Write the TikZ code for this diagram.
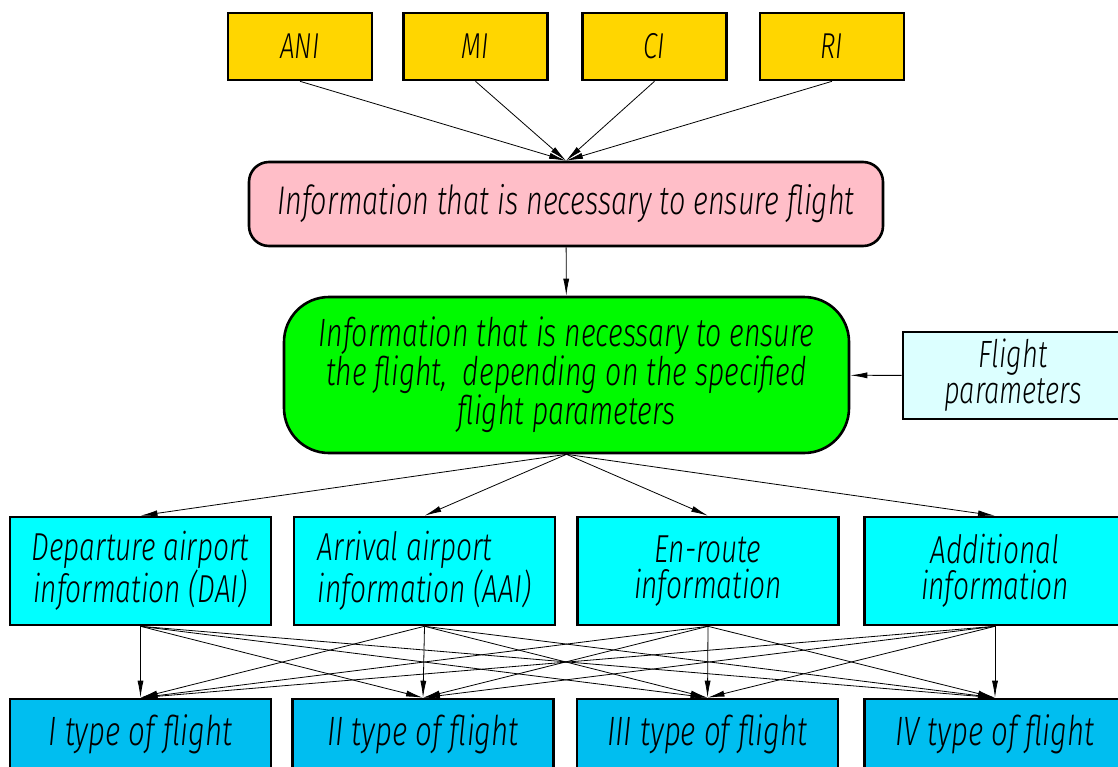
\documentclass[tikz,border=0pt]{standalone}
\usepackage{fontspec}
\newfontfamily\gost{Fira Sans Light Italic}[FakeStretch=0.72]
\usetikzlibrary{arrows.meta}
\definecolor{gold}{RGB}{255,214,0}
\definecolor{rosa}{RGB}{255,190,200}
\definecolor{lime}{RGB}{0,250,0}
\definecolor{pale}{RGB}{220,255,255}
\definecolor{aqua}{RGB}{0,255,255}
\definecolor{sky}{RGB}{0,190,240}
\begin{document}
\begin{tikzpicture}[%
 x=1pt,y=-1pt,
 block/.style={
 	rectangle,
 	draw=black,
 	line width=2.6pt,
 	align=center,
 	inner sep=0pt,
 	font=\gost\fontsize{39}{36}\selectfont
 },
 src/.style={
 	block,
 	fill=gold,
 	minimum width=144pt,
 	minimum height=67pt,
 	font=\gost\fontsize{36}{36}\selectfont
 },
 info/.style={
 	block,
 	fill=aqua,
 	minimum width=261pt,
 	minimum height=108pt
 },
 kind/.style={
 	block,
 	fill=sky,
 	minimum width=261pt,
 	minimum height=70pt,
 	font=\gost\fontsize{41}{40}\selectfont
 },
 line/.style={
 	draw,
 	line width=0.8pt,
 	-{Latex[length=17pt,width=6pt]}
 }
 ]
\useasboundingbox (0,0) rectangle (1118,766);
\clip (0,0) rectangle (1118,766);
\path (300,46.5) node[src] (ANI) {ANI}
 (475.5,46.5) node[src] (MI) {MI}
 (654.5,46.5) node[src] (CI) {CI}
 (832,46.5) node[src] (RI) {RI};
\path (566,204) node[block, fill=rosa, rounded corners=20pt,
 minimum width=634pt, minimum height=84pt,
 font=\gost\fontsize{40}{40}\selectfont] (N) {Information that is necessary to ensure flight};
\path (566.5,375) node[block, fill=lime, rounded corners=45pt,
 minimum width=565pt, minimum height=156pt,
 font=\gost\fontsize{39.5}{36.5}\selectfont] (D) {Information that is necessary to ensure\\the flight,\ \ depending on the specified\\flight parameters};
\path (1013,375.5) node[block, fill=pale, minimum width=220pt,
 minimum height=87pt, font=\gost\fontsize{38}{36}\selectfont] (P) {Flight\\parameters};
\path (140.5,571) node[info] (DAI) {Departure airport\\information (DAI)}
 (424.5,571) node[info, align=left] (AAI) {Arrival airport\\information (AAI)}
 (708,571) node[info] (ER) {En-route\\information}
 (995,571) node[info] (AD) {Additional\\information};
\path (140.5,734) node[kind] (T1) {I type of flight}
 (423,734) node[kind] (T2) {II type of flight}
 (707.5,734) node[kind] (T3) {III type of flight}
 (995,734) node[kind] (T4) {IV type of flight};

\foreach \s in {ANI,MI,CI,RI}
 \draw[line] (\s.south) -- (N.north);
\draw[line] (N) -- (D);
\draw[line] (P) -- (D);
\foreach \s in {DAI,AAI,ER,AD}
 \draw[line] (D.south) -- (\s.north);
%\draw (D.south) ++(0,-20) coordinate (hub);
\foreach \s in {DAI,AAI,ER,AD}
 \foreach \t in {T1,T2,T3,T4}
  \draw[line] (\s.south) -- (\t.north);
\end{tikzpicture}
\end{document}
